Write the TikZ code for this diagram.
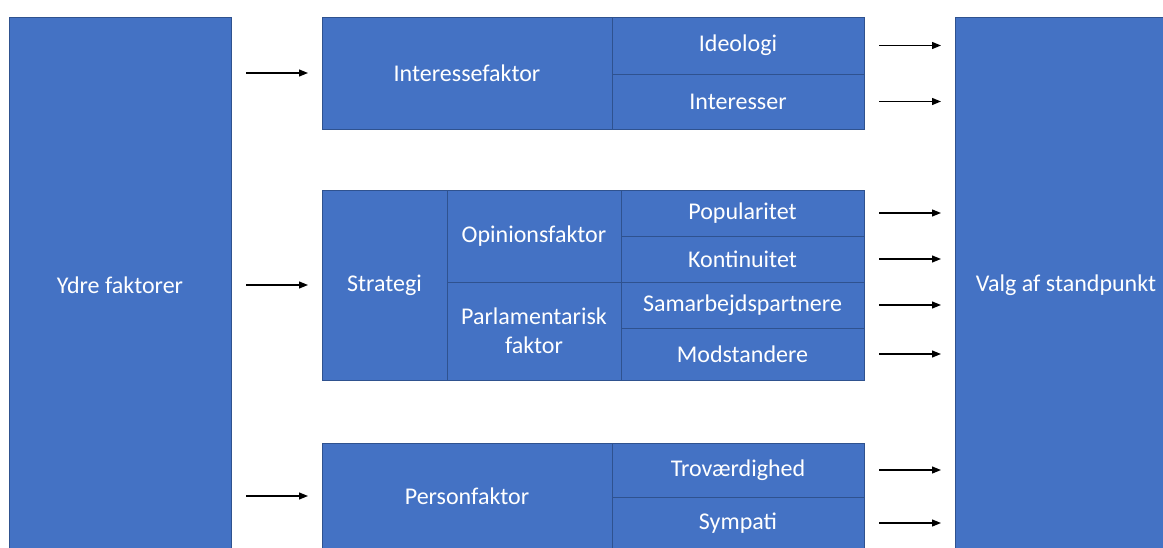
\documentclass[tikz,border=0pt]{standalone}
\usepackage{fontspec}
\setmainfont{Carlito}
\usetikzlibrary{arrows.meta}

\definecolor{boxblue}{HTML}{4472C4}
\definecolor{boxedge}{HTML}{2F528F}

\tikzset{
  cell/.style={draw=boxedge, line width=0.8pt, fill=boxblue, text=white,
    font=\fontsize{24}{29}\selectfont, align=center, inner sep=0pt,
    outer sep=0pt},
  arr/.style={-{Triangle[length=9pt,width=7pt]}, line width=1.2pt,
    shorten <=15pt, shorten >=14pt}
}

\begin{document}
\begin{tikzpicture}[x=1pt,y=-1pt]
  \useasboundingbox (0,0) rectangle (1163,548);
  \clip (0,0) rectangle (1163,548);
  % outer columns
  \node[cell, minimum width=222pt, minimum height=536pt] (ydre) at (120,285) {Ydre faktorer};
  \node[cell, minimum width=222pt, minimum height=536pt] (valg) at (1066,285) {Valg af standpunkt};
  % interessefaktor
  \node[cell, minimum width=290pt, minimum height=112pt] (interesse) at (467,73) {Interessefaktor};
  \node[cell, minimum width=252pt, minimum height=57pt] (ideologi) at (738,45.5) {Ideologi};
  \node[cell, minimum width=252pt, minimum height=55pt] (interesser) at (738,101.5) {Interesser};
  % strategi
  \node[cell, minimum width=125pt, minimum height=190pt] (strategi) at (384.5,285) {Strategi};
  \node[cell, minimum width=174pt, minimum height=92pt] (opinion) at (534,236) {Opinionsfaktor};
  \node[cell, minimum width=174pt, minimum height=98pt] (parlament) at (534,331) {Parlamentarisk\\faktor};
  \node[cell, minimum width=243pt, minimum height=46pt] (popularitet) at (742.5,213) {Popularitet};
  \node[cell, minimum width=243pt, minimum height=46pt] (kontinuitet) at (742.5,259) {Kontinuitet};
  \node[cell, minimum width=243pt, minimum height=46pt] (samarbejd) at (742.5,305) {Samarbejdspartnere};
  \node[cell, minimum width=243pt, minimum height=52pt] (modstandere) at (742.5,354) {Modstandere};
  % personfaktor
  \node[cell, minimum width=290pt, minimum height=106pt] (person) at (467,496) {Personfaktor};
  \node[cell, minimum width=252pt, minimum height=54pt] (trovaerdig) at (738,470) {Troværdighed};
  \node[cell, minimum width=252pt, minimum height=52pt] (sympati) at (738,523) {Sympati};
  % arrows in
  \foreach \n in {interesse,strategi,person}
    \draw[arr] (ydre.east |- \n.west) -- (\n.west);
  % arrows out
  \foreach \n in {ideologi,interesser,popularitet,kontinuitet,samarbejd,modstandere,trovaerdig,sympati}
    \draw[arr] (\n.east) -- (valg.west |- \n.east);
\end{tikzpicture}
\end{document}
